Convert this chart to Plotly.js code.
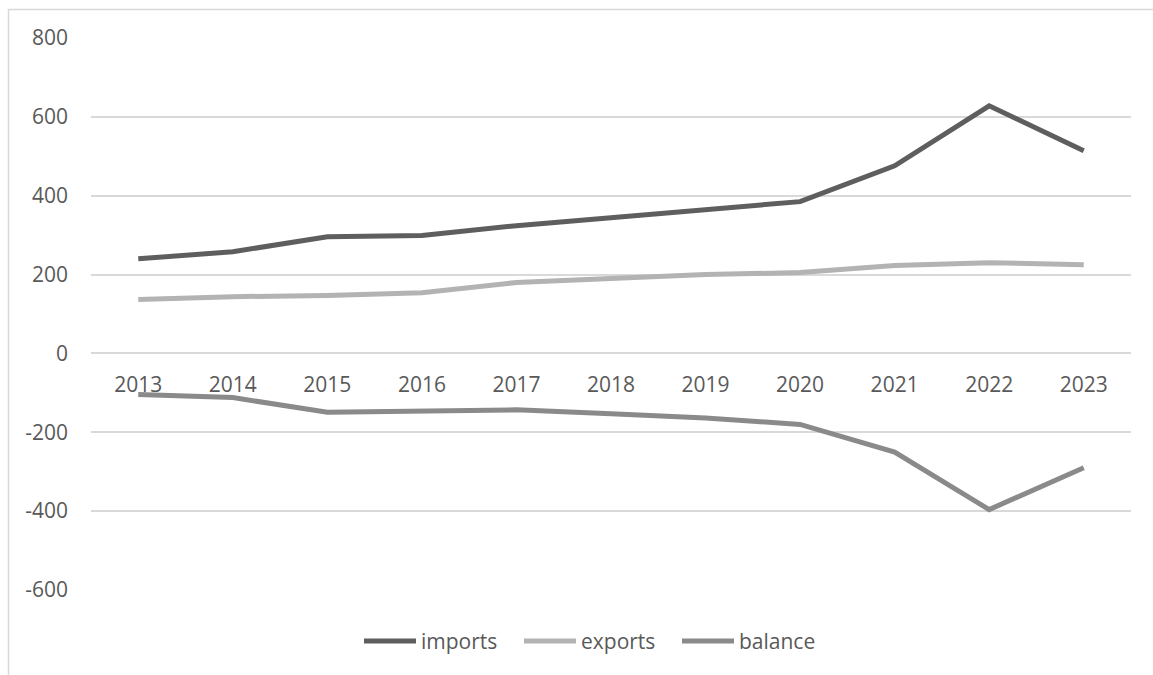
<!DOCTYPE html>
<html>
<head>
<meta charset="utf-8">
<script src="https://cdn.plot.ly/plotly-3.0.1.min.js"></script>
<style>
html,body{margin:0;padding:0;background:#fff;overflow:hidden;}
#chart{width:1153px;height:675px;}
</style>
</head>
<body>
<div id="chart"></div>
<script>
const years = ['2013','2014','2015','2016','2017','2018','2019','2020','2021','2022','2023'];
const imports = [240, 258, 296, 299, 324, 344, 365, 385, 476, 628, 514];
const exports_ = [137, 144, 147, 154, 180, 190, 200, 205, 223, 230, 225];
const balance = [-104, -112, -149, -145, -143, -153, -164, -180, -250, -396, -290];
const yTicks = [-600, -400, -200, 0, 200, 400, 600, 800];
const seriesNames = ['imports', 'exports', 'balance'];
const seriesColors = ['#5e5e5e', '#b3b3b3', '#8a8a8a'];

const yMin = -600, yMax = 800;
const mL = 91, mR = 22, mT = 38, mB = 85;
const W = 1153, H = 675;
const pw = W - mL - mR, ph = H - mT - mB;
const px2x = p => (p - mL) / pw;
const px2y = p => (H - mB - p) / ph;

const fontFam = '"Open Sans", "Noto Sans", sans-serif';
const txtCol = '#595959';
const fs = 21;

const seriesVals = [imports, exports_, balance];
const data = seriesVals.map((v, i) => ({
  x: years, y: v, name: seriesNames[i], type: 'scatter', mode: 'lines',
  line: {color: seriesColors[i], width: 5},
  hoverinfo: 'skip', showlegend: false
}));

// legend drawn as decoration (line sample + label)
const legStart = [362, 522, 680];
const legLineLen = 56;
const legY = 641;
const shapes = [{
  type: 'rect', xref: 'paper', yref: 'paper',
  x0: px2x(8.5), x1: px2x(W + 20),
  y0: px2y(H + 20), y1: px2y(9.5),
  line: {color: '#d9d9d9', width: 1.5},
  fillcolor: 'rgba(0,0,0,0)',
  layer: 'below'
}];
const annotations = [];
seriesNames.forEach((n, i) => {
  shapes.push({
    type: 'line', xref: 'paper', yref: 'paper',
    x0: px2x(legStart[i] + 2), x1: px2x(legStart[i] + legLineLen - 2),
    y0: px2y(legY), y1: px2y(legY),
    line: {color: seriesColors[i], width: 5}
  });
  annotations.push({
    xref: 'paper', yref: 'paper',
    x: px2x(legStart[i] + legLineLen + 1), y: px2y(legY),
    xanchor: 'left', yanchor: 'middle',
    text: n, showarrow: false,
    font: {family: fontFam, size: fs, color: txtCol}
  });
});

const layout = {
  width: W, height: H,
  margin: {l: mL, r: mR, t: mT, b: mB, pad: 0},
  paper_bgcolor: '#ffffff',
  plot_bgcolor: '#ffffff',
  font: {family: fontFam, size: fs, color: txtCol},
  showlegend: false,
  xaxis: {
    type: 'category',
    categoryarray: years,
    range: [-0.5, years.length - 0.5],
    anchor: 'free',
    position: (0 - yMin) / (yMax - yMin),
    showgrid: false,
    showline: false,
    zeroline: false,
    ticks: '',
    ticklabelstandoff: 17,
    tickfont: {family: fontFam, size: fs, color: txtCol},
    fixedrange: true
  },
  yaxis: {
    range: [yMin, yMax],
    tickvals: yTicks,
    ticktext: yTicks.map(String),
    showgrid: true,
    gridcolor: '#d9d9d9',
    gridwidth: 2,
    zeroline: true,
    zerolinecolor: '#d9d9d9',
    zerolinewidth: 2,
    showline: false,
    ticks: '',
    ticklabelstandoff: 22,
    tickfont: {family: fontFam, size: fs, color: txtCol},
    fixedrange: true
  },
  shapes: shapes,
  annotations: annotations
};

Plotly.newPlot('chart', data, layout, {displayModeBar: false, staticPlot: true});
</script>
</body>
</html>
